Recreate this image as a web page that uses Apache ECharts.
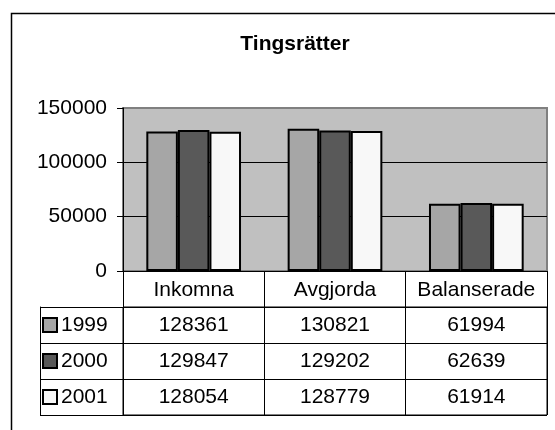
<!DOCTYPE html>
<html>
<head>
<meta charset="utf-8">
<script src="https://cdn.jsdelivr.net/npm/echarts@6/dist/echarts.min.js"></script>
<style>
  html, body { margin: 0; padding: 0; background: #fff; }
  #chart { width: 555px; height: 430px; }
</style>
</head>
<body>
<div id="chart"></div>
<script>
const categories = ['Inkomna', 'Avgjorda', 'Balanserade']
const years = ['1999', '2000', '2001']
const values1999 = [128361, 130821, 61994]
const values2000 = [129847, 129202, 62639]
const values2001 = [128054, 128779, 61914]
const yTicks = [0, 50000, 100000, 150000]

const colors = ['#a6a6a6', '#595959', '#f8f8f8']
const font = 'Liberation Sans, Arial, sans-serif'
const allValues = [values1999, values2000, values2001]

// table cells: [column, row, value]
const cells = []
allValues.forEach((vals, row) => {
  vals.forEach((v, col) => cells.push([col, row, v]))
})

const keyStyles = {}
colors.forEach((c, i) => {
  keyStyles['k' + i] = {
    width: 12, height: 12,
    backgroundColor: c,
    borderColor: '#000',
    borderWidth: 2,
  }
})
keyStyles.gap = { width: 5, fontSize: 10 }
keyStyles.t = { fontSize: 21, fontFamily: font, color: '#000' }

const chart = echarts.init(document.getElementById('chart'))
chart.setOption({
  animation: false,
  title: {
    text: 'Tingsrätter',
    left: 290,
    top: 29,
    textAlign: 'center',
    textStyle: { fontSize: 21, fontWeight: 'bold', fontFamily: font, color: '#000' },
  },
  graphic: [
    {
      type: 'rect',
      shape: { x: 11.5, y: 13.5, width: 620, height: 520 },
      style: { fill: 'none', stroke: '#000', lineWidth: 1.5 },
      z: 100,
    },
  ],
  grid: [
    {
      left: 123, top: 108, width: 424, height: 163,
      show: true,
      backgroundColor: '#c0c0c0',
      borderColor: '#808080',
      borderWidth: 2,
    },
    {
      left: 123, top: 307, width: 424, height: 108,
      show: true,
      backgroundColor: '#fff',
      borderColor: '#000',
      borderWidth: 1,
    },
  ],
  xAxis: [
    {
      gridIndex: 0,
      type: 'category',
      data: categories,
      axisLine: { show: true, lineStyle: { color: '#000', width: 1 } },
      axisTick: { show: true, length: 36, interval: 0, lineStyle: { color: '#000' } },
      axisLabel: { show: true, interval: 0, hideOverlap: false, margin: 9, fontSize: 21, fontFamily: font, color: '#000' },
      splitLine: { show: false },
    },
    {
      gridIndex: 1,
      type: 'category',
      data: categories,
      axisLine: { show: false },
      axisTick: { show: false },
      axisLabel: { show: false },
      splitLine: { show: true, interval: 0, lineStyle: { color: '#000', width: 1 } },
    },
  ],
  yAxis: [
    {
      gridIndex: 0,
      type: 'value',
      min: yTicks[0],
      max: yTicks[yTicks.length - 1],
      interval: yTicks[1] - yTicks[0],
      axisLine: { show: true, lineStyle: { color: '#000', width: 1 } },
      axisTick: { show: true, length: 6, lineStyle: { color: '#000' } },
      axisLabel: { margin: 16, fontSize: 21, fontFamily: font, color: '#000', formatter: v => String(v) },
      splitLine: { show: true, lineStyle: { color: ['#000', '#000', '#000', '#808080'], width: 1 } },
    },
    {
      gridIndex: 1,
      type: 'category',
      data: years,
      inverse: true,
      axisLine: { show: true, lineStyle: { color: '#000', width: 1 } },
      axisTick: { show: true, length: 83, interval: 0, lineStyle: { color: '#000' } },
      axisLabel: {
        interval: 0,
        margin: 79,
        align: 'left',
        formatter: (value, index) => '{k' + index + '|}{gap| }{t|' + value + '}',
        rich: keyStyles,
      },
      splitLine: { show: true, interval: 0, lineStyle: { color: '#000', width: 1 } },
    },
    {
      // left edge of the legend column
      gridIndex: 1,
      type: 'category',
      data: years,
      position: 'left',
      offset: 83,
      axisLine: { show: true, lineStyle: { color: '#000', width: 1 } },
      axisTick: { show: false },
      axisLabel: { show: false },
      splitLine: { show: false },
    },
  ],
  series: [
    ...years.map((y, i) => ({
      name: y,
      type: 'bar',
      xAxisIndex: 0,
      yAxisIndex: 0,
      data: allValues[i],
      barGap: '0%',
      barCategoryGap: '33%',
      itemStyle: { color: colors[i], borderColor: '#000', borderWidth: 2 },
    })),
    {
      type: 'scatter',
      xAxisIndex: 1,
      yAxisIndex: 1,
      data: cells,
      symbolSize: 0,
      itemStyle: { color: '#000', opacity: 1 },
      label: {
        show: true,
        position: 'inside',
        formatter: p => p.value[2],
        fontSize: 21,
        fontFamily: font,
        color: '#000',
        opacity: 1,
        textBorderWidth: 0,
      },
    },
  ],
})
</script>
</body>
</html>
